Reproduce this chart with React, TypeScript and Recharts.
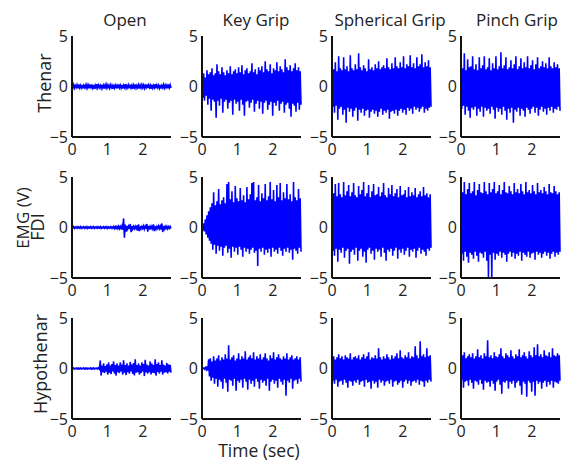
import React from "react";
import { LineChart, Line, XAxis, YAxis } from "recharts";

// Recording length (seconds) and amplitude range (V) for every trace
const DURATION = 2.8;
const Y_TICKS = [-5, 0, 5];
const X_TICKS = [0, 1, 2];

const GRIPS = ["Open", "Key Grip", "Spherical Grip", "Pinch Grip"];
const MUSCLES = ["Thenar", "FDI", "Hypothenar"];

// Each EMG trace is stored as alternating positive / negative excursions (V)

// --- Thenar ---
const thenarOpenHi = [0.12,0.18,0.1,0.15,0.2,0.12,0.16,0.1,0.14,0.18,0.12,0.2,0.1,0.15,0.12,0.22,0.14,0.1,0.18,0.12,0.15,0.2,0.1,0.16,0.12,0.18,0.14,0.1,0.2,0.13,0.16,0.12,0.22,0.1,0.15,0.18,0.12,0.14,0.2,0.1,0.16,0.12,0.18,0.14,0.1,0.2,0.15,0.12,0.18,0.1,0.22,0.14,0.12,0.16,0.1,0.18,0.14,0.12,0.2,0.15];
const thenarOpenLo = [-0.12,-0.16,-0.1,-0.18,-0.12,-0.14,-0.2,-0.1,-0.15,-0.12,-0.18,-0.1,-0.16,-0.22,-0.12,-0.14,-0.1,-0.18,-0.12,-0.2,-0.14,-0.1,-0.16,-0.12,-0.22,-0.14,-0.1,-0.18,-0.12,-0.15,-0.2,-0.1,-0.16,-0.12,-0.18,-0.14,-0.22,-0.1,-0.15,-0.12,-0.2,-0.14,-0.1,-0.18,-0.12,-0.16,-0.1,-0.22,-0.14,-0.12,-0.18,-0.1,-0.16,-0.2,-0.12,-0.14,-0.1,-0.18,-0.12,-0.15];

const thenarKeyHi = [1.0,1.3,0.9,1.6,1.2,1.4,1.8,1.1,1.3,2.2,1.5,1.2,1.9,1.4,1.1,1.6,1.3,2.0,1.2,1.5,1.7,1.3,1.9,1.4,2.1,1.2,1.6,1.8,1.3,1.5,2.3,1.4,1.7,1.2,1.9,1.6,2.0,1.4,2.5,1.7,1.5,2.2,1.3,1.8,1.6,2.4,1.5,2.0,1.7,1.4,2.7,1.9,1.6,2.1,1.5,1.8,2.3,1.6,1.9,1.5];
const thenarKeyLo = [-1.1,-1.4,-0.9,-1.8,-1.2,-2.4,-1.3,-1.5,-3.1,-1.4,-1.9,-1.2,-2.6,-1.5,-1.3,-2.2,-1.6,-1.4,-2.8,-1.3,-1.7,-1.5,-2.4,-1.3,-1.8,-2.9,-1.5,-1.4,-2.1,-1.6,-1.3,-2.5,-1.7,-1.4,-2.2,-1.5,-2.7,-1.6,-1.4,-2.3,-1.8,-1.5,-2.9,-1.6,-1.9,-1.4,-2.4,-1.7,-1.5,-2.6,-1.8,-1.6,-2.2,-3.0,-1.7,-1.9,-2.5,-1.6,-2.3,-1.8];

const thenarSphHi = [3.8,1.7,2.4,1.5,3.0,1.8,1.6,2.9,1.7,2.0,1.5,3.1,1.8,1.6,2.2,1.7,3.3,1.9,1.6,2.1,1.8,1.5,2.7,1.7,1.9,1.6,2.2,1.8,2.5,1.7,1.9,2.1,1.8,2.8,1.9,1.7,2.3,1.8,2.9,2.0,1.8,2.4,1.9,3.0,1.8,2.2,2.0,3.1,1.9,2.3,1.8,2.9,2.0,2.2,3.2,1.9,2.4,2.0,2.6,1.9];
const thenarSphLo = [-2.0,-2.6,-1.9,-3.3,-2.2,-2.0,-2.8,-2.3,-3.6,-2.1,-2.5,-2.2,-3.0,-2.4,-2.1,-3.4,-2.3,-2.6,-2.2,-2.9,-2.4,-2.3,-3.1,-2.5,-2.3,-2.7,-2.4,-3.0,-2.5,-2.2,-2.8,-2.4,-2.6,-2.3,-3.2,-2.5,-2.4,-2.7,-2.3,-2.9,-2.4,-2.2,-2.6,-2.3,-2.8,-2.1,-2.4,-2.2,-2.7,-2.0,-2.3,-2.1,-2.5,-2.2,-2.0,-2.6,-2.2,-2.4,-2.1,-2.0];

const thenarPinHi = [3.9,1.8,3.3,1.6,2.7,1.9,2.0,3.0,1.7,2.2,1.6,2.9,1.8,2.1,3.0,1.7,1.9,2.8,1.6,2.3,1.8,3.0,1.7,2.0,3.4,1.8,2.1,2.9,1.7,1.9,2.6,1.8,2.2,3.0,1.7,2.0,2.8,1.8,2.4,1.9,3.0,1.8,2.1,2.6,1.7,2.2,2.9,1.8,2.0,2.5,1.9,2.3,1.8,2.9,2.0,1.8,2.4,1.9,2.2,1.8];
const thenarPinLo = [-2.2,-1.9,-2.8,-2.0,-2.4,-3.1,-2.1,-2.3,-2.0,-2.9,-2.2,-2.5,-2.0,-3.0,-2.1,-2.4,-2.2,-2.7,-2.0,-2.3,-3.2,-2.1,-2.5,-2.2,-2.8,-2.0,-2.4,-3.3,-2.2,-2.6,-2.1,-3.6,-2.3,-2.5,-2.1,-2.9,-2.2,-2.4,-3.0,-2.1,-2.3,-2.7,-2.2,-2.0,-2.6,-2.1,-2.9,-2.3,-2.0,-2.5,-2.2,-2.8,-2.1,-2.4,-2.0,-2.6,-2.2,-2.3,-2.0,-2.4];

// --- FDI ---
const fdiOpenHi = [0.06,0.08,0.05,0.07,0.06,0.08,0.05,0.07,0.06,0.08,0.05,0.07,0.06,0.08,0.05,0.07,0.06,0.08,0.05,0.07,0.06,0.08,0.05,0.07,0.06,0.1,0.08,0.1,0.12,0.1,0.15,0.9,0.3,0.15,0.12,0.35,0.15,0.1,0.12,0.2,0.3,0.12,0.1,0.15,0.12,0.35,0.15,0.1,0.12,0.3,0.12,0.1,0.15,0.12,0.4,0.15,0.1,0.12,0.08,0.1];
const fdiOpenLo = [-0.06,-0.08,-0.05,-0.07,-0.06,-0.08,-0.05,-0.07,-0.06,-0.08,-0.05,-0.07,-0.06,-0.08,-0.05,-0.07,-0.06,-0.08,-0.05,-0.07,-0.06,-0.08,-0.05,-0.07,-0.06,-0.1,-0.08,-0.1,-0.12,-0.1,-0.2,-1.0,-0.4,-0.15,-0.12,-0.45,-0.15,-0.12,-0.1,-0.3,-0.35,-0.12,-0.1,-0.15,-0.12,-0.4,-0.2,-0.1,-0.12,-0.35,-0.15,-0.1,-0.12,-0.2,-0.45,-0.15,-0.1,-0.12,-0.08,-0.1];

const fdiKeyHi = [0.1,0.4,0.8,1.2,1.6,2.0,2.4,3.5,2.2,2.6,3.8,2.3,2.7,3.0,2.4,4.3,4.5,2.8,3.6,2.5,4.1,2.9,2.6,3.9,2.7,3.2,2.5,4.0,2.8,3.3,4.4,4.5,2.7,3.0,4.2,2.6,3.4,2.9,4.3,2.7,3.1,4.5,2.8,3.7,2.6,4.2,3.0,4.4,2.7,3.5,2.9,4.3,2.8,3.3,2.6,4.5,3.0,2.7,3.8,2.9];
const fdiKeyLo = [-0.1,-0.4,-0.7,-1.0,-1.3,-1.6,-2.2,-1.7,-2.6,-1.8,-2.3,-1.9,-2.8,-2.0,-1.8,-2.5,-2.1,-3.0,-1.9,-2.4,-2.0,-2.7,-1.9,-2.2,-2.9,-2.0,-2.4,-2.1,-2.6,-2.2,-2.0,-2.5,-2.3,-3.8,-2.1,-2.4,-2.0,-2.7,-2.2,-2.5,-2.1,-2.9,-2.0,-2.4,-2.2,-2.6,-2.0,-2.3,-2.8,-2.1,-2.4,-2.0,-2.5,-2.2,-3.2,-2.1,-2.3,-2.6,-2.0,-2.4];

const fdiSphHi = [4.5,3.4,4.3,3.1,4.4,3.3,3.0,4.5,3.2,3.6,4.2,3.1,3.5,4.4,3.2,3.0,4.1,3.3,3.7,4.5,3.1,3.4,4.2,3.0,3.6,4.3,3.2,3.3,4.0,3.1,3.5,4.4,3.2,3.0,3.9,3.3,4.2,3.1,3.4,3.8,3.0,4.1,3.2,3.3,3.7,3.0,4.0,3.1,3.5,3.2,3.9,3.0,3.3,3.6,3.1,4.0,3.2,3.4,3.0,3.3];
const fdiSphLo = [-2.3,-2.8,-2.1,-3.4,-2.2,-2.5,-2.0,-3.0,-2.3,-2.1,-3.6,-2.4,-2.2,-2.7,-2.0,-3.3,-2.3,-2.1,-2.9,-2.4,-3.5,-2.2,-2.0,-2.6,-2.3,-3.2,-2.1,-2.4,-2.2,-2.9,-2.0,-2.5,-3.3,-2.2,-2.4,-2.1,-2.8,-2.3,-2.0,-3.1,-2.2,-2.5,-2.1,-2.7,-2.3,-2.0,-2.9,-2.2,-2.4,-2.1,-3.0,-2.3,-2.0,-2.6,-2.2,-2.4,-2.8,-2.1,-2.3,-2.0];

const fdiPinHi = [4.2,3.5,4.5,3.3,3.8,4.4,3.4,3.6,4.5,3.2,3.7,4.3,3.5,3.4,4.5,3.6,3.3,4.4,3.5,3.8,4.5,3.4,3.6,4.2,3.3,3.7,4.5,3.5,3.4,4.1,3.6,3.3,4.4,3.5,3.8,3.4,4.3,3.6,3.3,4.5,3.5,3.7,3.4,4.2,3.6,3.3,4.4,3.5,3.7,3.4,4.0,3.6,3.3,4.3,3.5,3.4,4.1,3.6,3.3,3.5];
const fdiPinLo = [-2.6,-3.3,-2.4,-2.9,-3.5,-2.5,-2.7,-3.1,-2.4,-2.8,-3.4,-2.5,-2.6,-3.0,-2.4,-3.3,-5.0,-2.7,-5.0,-2.5,-3.2,-2.6,-2.8,-2.4,-3.0,-2.5,-2.7,-3.4,-2.6,-2.4,-2.9,-2.5,-3.1,-2.6,-2.8,-2.4,-3.3,-2.5,-2.7,-2.9,-2.4,-3.0,-2.6,-2.5,-3.2,-2.4,-2.7,-2.5,-3.0,-2.6,-2.4,-2.8,-2.5,-3.1,-2.6,-2.4,-2.9,-2.5,-2.7,-2.4];

// --- Hypothenar ---
const hypoOpenHi = [0.04,0.05,0.03,0.05,0.04,0.05,0.03,0.05,0.04,0.05,0.03,0.05,0.04,0.05,0.03,0.05,0.06,0.8,0.3,0.5,0.25,0.4,0.6,0.3,0.45,0.7,0.35,0.5,0.3,0.6,0.4,0.8,0.35,0.5,0.3,0.65,0.4,0.55,0.9,0.35,0.5,0.3,0.6,0.45,0.85,0.4,0.3,0.7,0.5,0.35,0.9,0.45,0.6,0.35,0.8,0.4,0.3,0.55,0.4,0.35];
const hypoOpenLo = [-0.04,-0.05,-0.03,-0.05,-0.04,-0.05,-0.03,-0.05,-0.04,-0.05,-0.03,-0.05,-0.04,-0.05,-0.03,-0.05,-0.06,-0.7,-0.35,-0.45,-0.3,-0.6,-0.4,-0.55,-0.3,-0.5,-0.7,-0.35,-0.45,-0.3,-0.6,-0.4,-0.65,-0.35,-0.5,-0.3,-0.55,-0.7,-0.4,-0.35,-0.6,-0.45,-0.3,-0.75,-0.4,-0.5,-0.35,-0.6,-0.4,-0.45,-0.7,-0.35,-0.5,-0.3,-0.6,-0.4,-0.35,-0.5,-0.3,-0.4];

const hypoKeyHi = [0.0,0.05,0.1,0.2,0.9,1.0,0.7,1.2,0.8,1.0,1.3,0.8,1.1,0.9,1.4,1.0,2.3,0.9,1.1,1.3,0.8,1.0,1.5,0.9,1.2,1.0,1.7,0.9,1.1,1.3,1.0,1.6,0.9,1.2,1.0,1.4,0.9,1.1,1.5,1.0,0.8,1.3,1.0,1.6,0.9,1.1,1.4,1.0,0.9,1.2,1.0,1.5,0.9,1.1,1.3,0.9,1.0,1.2,0.9,1.1];
const hypoKeyLo = [0.0,-0.05,-0.1,-0.2,-0.8,-1.2,-0.9,-1.5,-1.0,-1.8,-1.1,-1.3,-2.0,-1.0,-1.4,-2.3,-1.1,-1.2,-1.7,-1.0,-2.2,-1.2,-1.4,-1.1,-1.9,-1.0,-1.3,-2.1,-1.1,-1.5,-1.2,-1.8,-1.0,-1.3,-2.0,-1.1,-1.4,-1.2,-1.7,-1.0,-2.2,-1.3,-1.1,-1.5,-1.2,-1.9,-1.0,-1.3,-1.6,-1.1,-2.7,-1.2,-1.4,-1.0,-2.0,-1.2,-1.1,-1.5,-1.0,-1.3];

const hypoSphHi = [1.0,1.2,0.9,1.1,1.4,1.0,1.2,0.9,1.3,1.1,1.0,1.5,0.9,1.1,1.2,1.0,1.3,0.9,1.1,1.4,1.0,1.2,1.6,0.9,1.1,1.0,1.3,1.0,2.0,1.1,0.9,1.2,1.0,1.4,1.1,0.9,1.3,1.0,1.2,1.5,1.0,1.8,1.1,1.0,1.3,1.1,1.6,1.0,1.2,1.1,2.2,1.3,1.0,2.7,1.2,1.4,1.1,2.0,1.2,1.3];
const hypoSphLo = [-1.2,-1.5,-1.1,-1.8,-1.3,-1.2,-1.6,-1.1,-1.4,-1.9,-1.2,-1.3,-1.7,-1.2,-1.4,-1.1,-1.6,-1.3,-1.2,-1.8,-1.1,-1.4,-1.3,-2.0,-1.2,-1.5,-1.3,-1.9,-1.1,-1.4,-1.2,-1.7,-1.3,-1.2,-1.5,-1.1,-1.8,-1.3,-1.2,-1.6,-1.4,-1.2,-1.9,-1.3,-1.1,-1.5,-1.2,-1.7,-1.3,-1.2,-1.4,-1.1,-1.6,-1.2,-1.3,-1.8,-1.2,-1.4,-1.1,-1.3];

const hypoPinHi = [1.0,1.3,1.6,1.0,1.2,1.4,1.1,1.5,1.0,1.2,1.9,1.1,1.3,1.0,1.5,1.2,2.8,1.1,1.3,1.0,1.6,1.2,1.1,1.4,2.0,1.2,1.0,1.5,1.3,1.1,1.8,1.2,1.0,1.4,1.2,1.9,1.1,1.3,1.6,1.2,1.0,1.7,1.3,1.1,2.1,1.3,2.4,1.2,1.4,1.1,1.8,1.3,1.2,1.6,1.1,2.0,1.3,1.2,1.5,1.3];
const hypoPinLo = [-1.1,-1.9,-1.3,-1.2,-1.7,-1.1,-1.4,-2.0,-1.2,-1.3,-1.6,-1.1,-1.5,-2.1,-1.2,-1.4,-1.3,-1.8,-1.2,-1.5,-2.2,-1.3,-1.1,-1.6,-2.5,-1.3,-1.4,-1.2,-2.0,-1.3,-1.5,-1.2,-1.9,-1.4,-1.2,-1.7,-2.6,-1.3,-1.5,-2.8,-1.2,-1.4,-2.3,-1.3,-2.7,-1.2,-1.5,-1.3,-2.0,-1.4,-1.2,-1.8,-1.3,-1.6,-1.2,-1.9,-1.3,-1.4,-1.5,-1.2];

// Turn a pair of excursion lists into an evenly sampled time series
function toTrace(hi: number[], lo: number[]) {
  const n = hi.length * 2;
  const dt = DURATION / (n - 1);
  const out: { t: number; v: number }[] = [];
  hi.forEach((h, k) => {
    out.push({ t: 2 * k * dt, v: h });
    out.push({ t: (2 * k + 1) * dt, v: lo[k] });
  });
  return out;
}

const TRACES = [
  [toTrace(thenarOpenHi, thenarOpenLo), toTrace(thenarKeyHi, thenarKeyLo), toTrace(thenarSphHi, thenarSphLo), toTrace(thenarPinHi, thenarPinLo)],
  [toTrace(fdiOpenHi, fdiOpenLo), toTrace(fdiKeyHi, fdiKeyLo), toTrace(fdiSphHi, fdiSphLo), toTrace(fdiPinHi, fdiPinLo)],
  [toTrace(hypoOpenHi, hypoOpenLo), toTrace(hypoKeyHi, hypoKeyLo), toTrace(hypoSphHi, hypoSphLo), toTrace(hypoPinHi, hypoPinLo)],
];

// Layout of the 3 x 4 grid of plot boxes
const COL_LEFT = [72, 202, 332, 461];
const ROW_TOP = [36, 177, 318];
const BOX_W = 99;
const BOX_H = 101;
const PAD_LEFT = 40;
const PAD_TOP = 12;
const PAD_RIGHT = 4;
const PAD_BOTTOM = 24;

const FONT = "'Open Sans', 'Noto Sans', sans-serif";
const INK = "#222";

const fmtY = (v: number) => (v < 0 ? `\u2212${-v}` : `${v}`);

function Panel({ data, left, top }: { data: { t: number; v: number }[]; left: number; top: number }) {
  const frame = { stroke: "#111", strokeWidth: 2 };
  return (
    <div style={{ position: "absolute", left: left - PAD_LEFT, top: top - PAD_TOP }}>
      <LineChart
        width={PAD_LEFT + BOX_W + PAD_RIGHT}
        height={PAD_TOP + BOX_H + PAD_BOTTOM}
        data={data}
        margin={{ top: PAD_TOP, right: PAD_RIGHT, bottom: 0, left: 0 }}
      >
        <XAxis
          xAxisId="b"
          dataKey="t"
          type="number"
          domain={[0, DURATION]}
          ticks={X_TICKS}
          height={PAD_BOTTOM}
          axisLine={frame}
          tickLine={false}
          tickSize={5}
          tickMargin={2}
          tick={{ fontSize: 16, fill: INK, fontFamily: FONT }}
          interval={0}
        />
        <XAxis xAxisId="t" dataKey="t" type="number" domain={[0, DURATION]} orientation="top" height={0} axisLine={frame} tick={false} tickLine={false} />
        <YAxis
          yAxisId="l"
          type="number"
          domain={[-5, 5]}
          ticks={Y_TICKS}
          width={PAD_LEFT}
          axisLine={frame}
          tickLine={false}
          tickSize={2}
          tickMargin={2}
          tickFormatter={fmtY}
          tick={{ fontSize: 16, fill: INK, fontFamily: FONT }}
          interval={0}
        />
        <YAxis yAxisId="r" type="number" domain={[-5, 5]} orientation="right" width={0} axisLine={frame} tick={false} tickLine={false} />
        <Line
          xAxisId="b"
          yAxisId="l"
          type="linear"
          dataKey="v"
          stroke="#0000ff"
          strokeWidth={1.6}
          strokeLinejoin="miter"
          dot={false}
          activeDot={false}
          isAnimationActive={false}
        />
      </LineChart>
    </div>
  );
}

const TITLE_X = [125, 256, 390, 517];

export default function App() {
  return (
    <div style={{ position: "absolute", left: 0, top: 0, width: 567, height: 466, background: "#fff", overflow: "hidden" }}>
      <svg width={567} height={466} style={{ position: "absolute", left: 0, top: 0 }} fontFamily={FONT} fill={INK}>
        {GRIPS.map((g, i) => (
          <text key={g} x={TITLE_X[i]} y={26} fontSize={17} textAnchor="middle">
            {g}
          </text>
        ))}
        <text x={51} y={83} fontSize={18} textAnchor="middle" transform="rotate(-90 51 83)">
          {MUSCLES[0]}
        </text>
        <text x={29} y={218} fontSize={17} textAnchor="middle" transform="rotate(-90 29 218)">
          EMG (V)
        </text>
        <text x={44} y={227} fontSize={18} textAnchor="middle" transform="rotate(-90 44 227)">
          {MUSCLES[1]}
        </text>
        <text x={47} y={364} fontSize={18} textAnchor="middle" transform="rotate(-90 47 364)">
          {MUSCLES[2]}
        </text>
        <text x={259} y={457} fontSize={17.5} textAnchor="middle">
          Time (sec)
        </text>
      </svg>
      {TRACES.map((row, r) =>
        row.map((data, c) => <Panel key={`${r}-${c}`} data={data} left={COL_LEFT[c]} top={ROW_TOP[r]} />)
      )}
    </div>
  );
}
